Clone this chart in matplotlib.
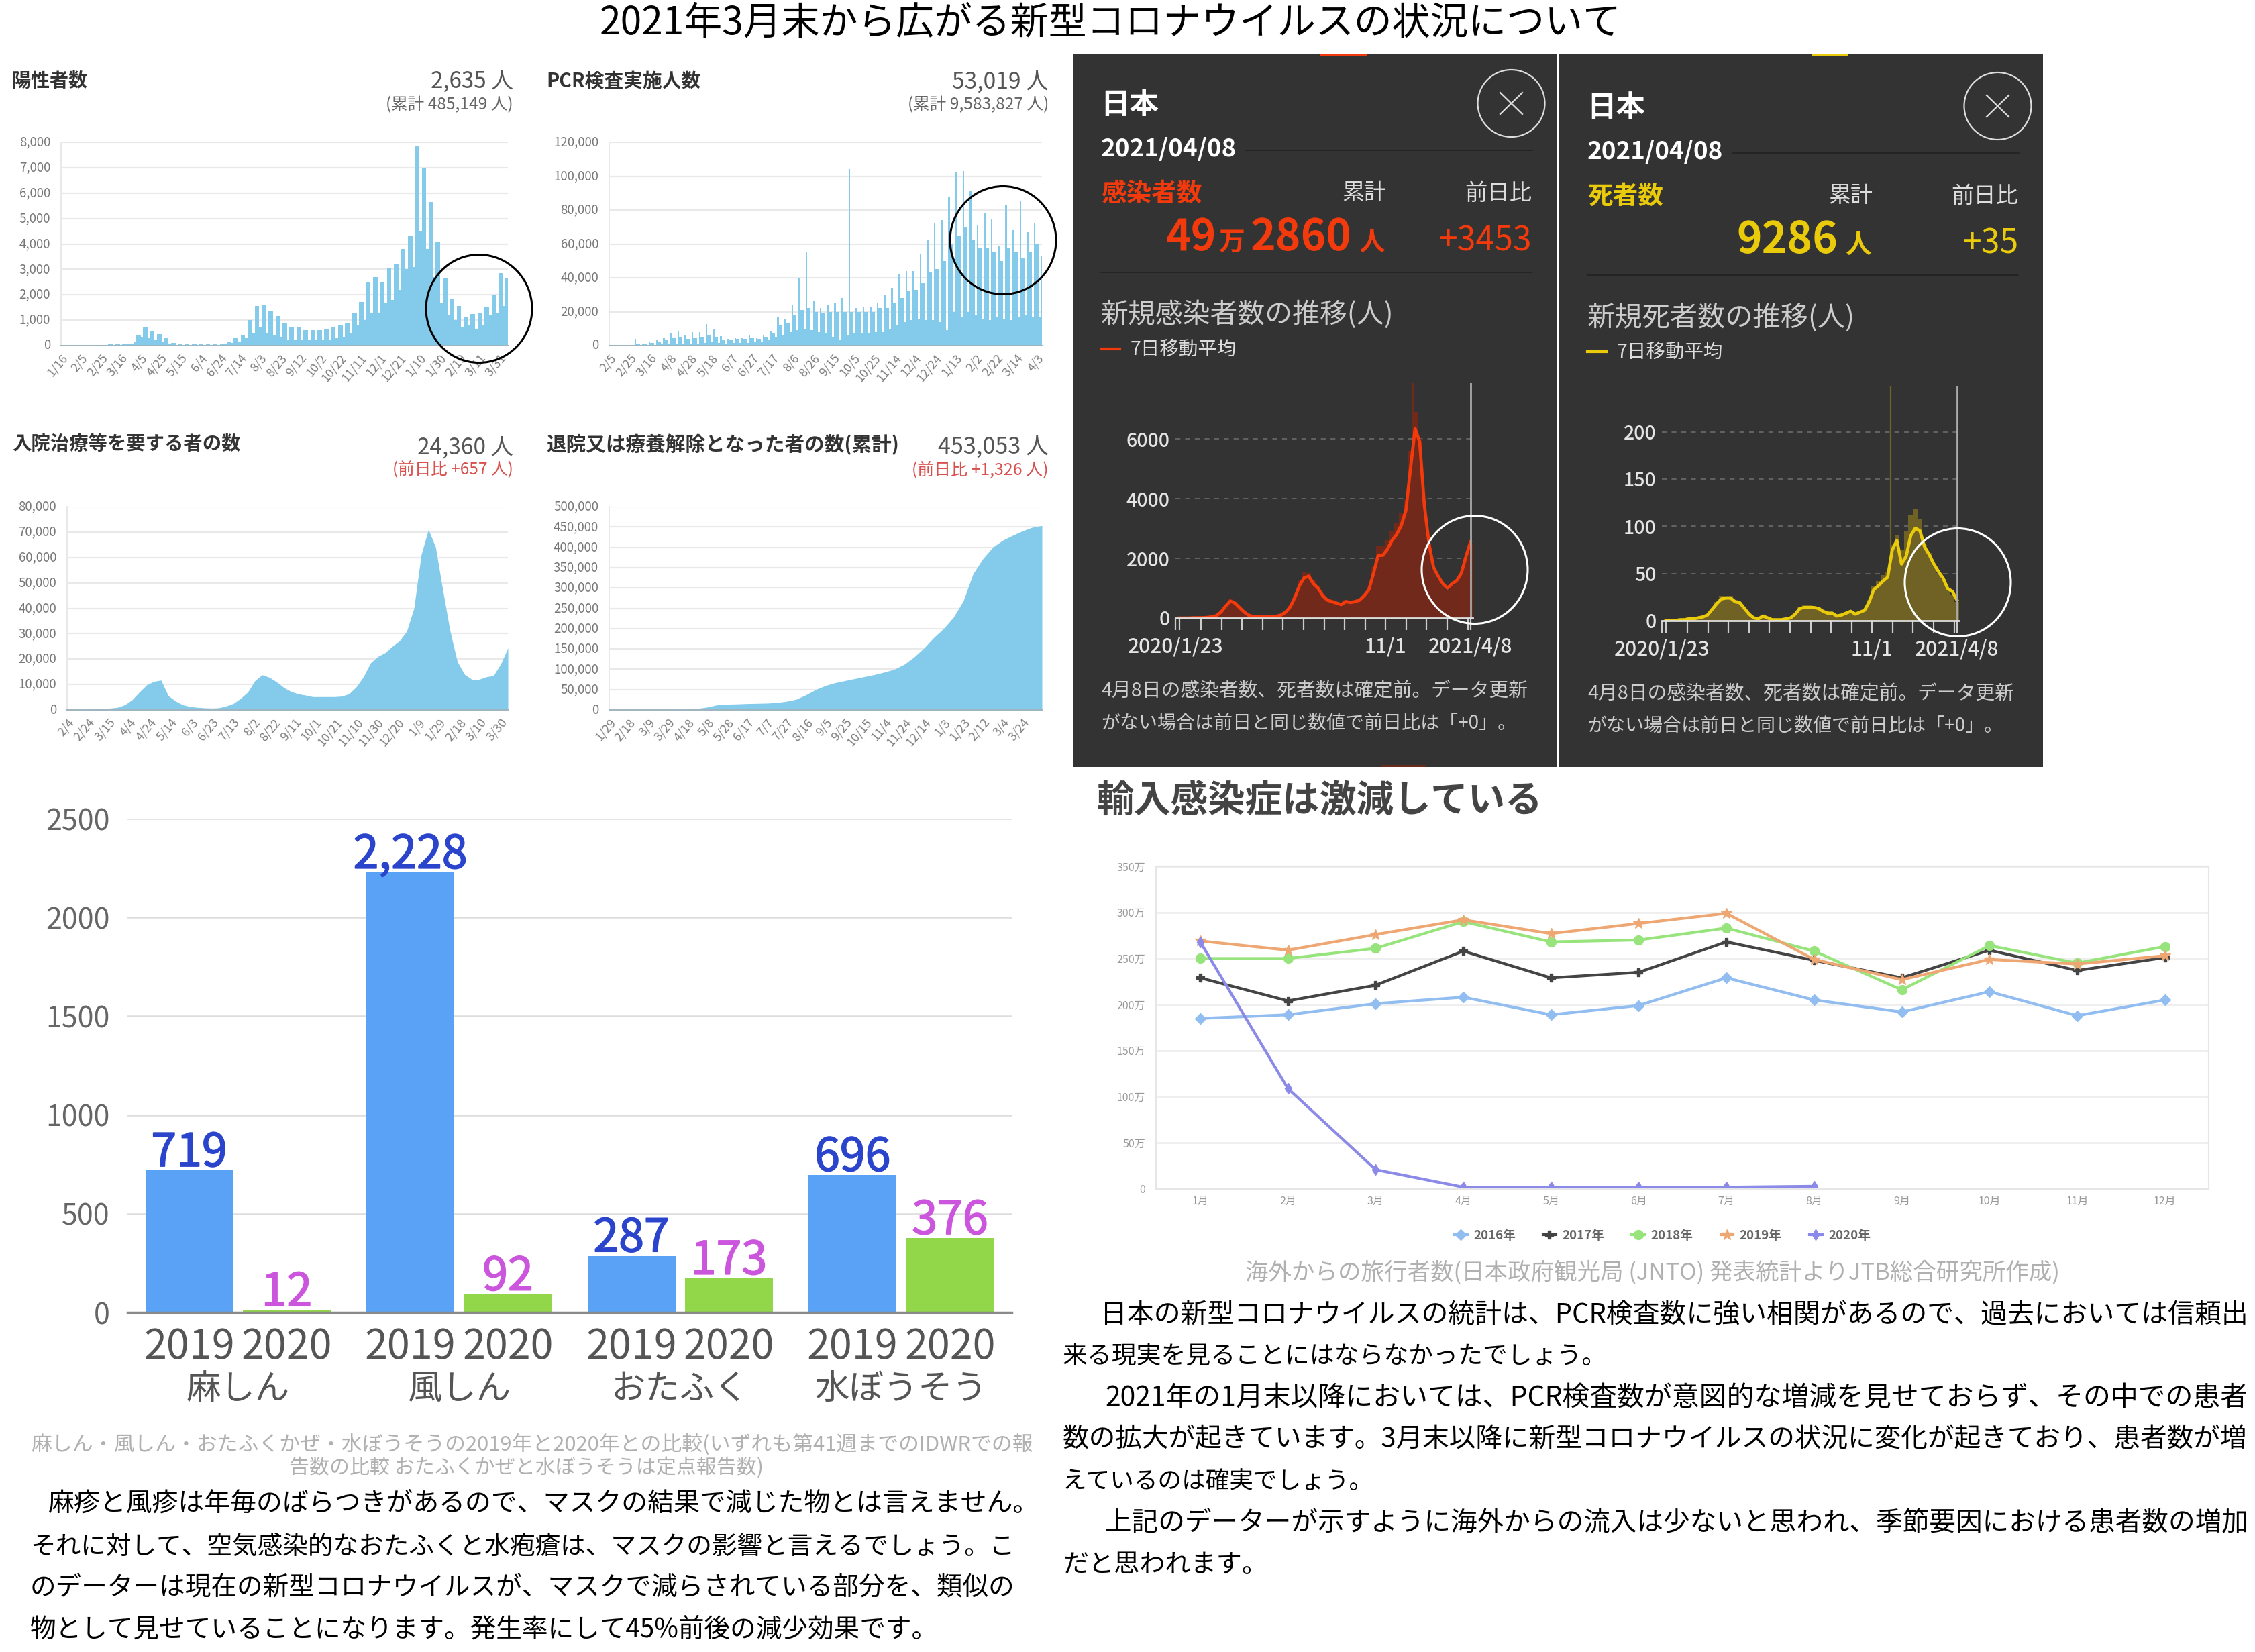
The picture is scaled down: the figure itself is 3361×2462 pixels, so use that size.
import numpy as np
import matplotlib
matplotlib.use("Agg")
import matplotlib.pyplot as plt
import matplotlib.patheffects as pe
from matplotlib.patches import Ellipse, Rectangle

plt.rcParams['font.family'] = ['Noto Sans CJK JP', 'DejaVu Sans']

W, H = 3362, 2462

# top left panels (two readings per week: low days, high days)
positive = [0,0, 0,0, 0,2, 0,5, 2,10, 5,15, 5,20, 10,50, 20,50, 25,60, 40,80,
            120,390, 350,710, 300,590, 200,450, 130,290, 50,100, 30,70, 20,40, 15,50, 20,40,
            20,45, 25,55, 30,70, 60,140, 100,280, 150,420, 300,1000, 500,1570, 700,1590, 500,1340,
            400,1150, 350,890, 250,710, 250,700, 200,600, 200,620, 200,620, 230,660, 250,700, 300,790,
            350,870, 500,1300, 800,1720, 1000,2500, 1300,2680, 1300,2500, 1700,3050, 1800,3200, 2200,3800, 3000,4300,
            3100,7850, 4500,7000, 3800,5650, 2700,4100, 1700,2650, 1200,1850, 1000,1550, 750,1100, 800,1250, 650,1300,
            800,1500, 1200,2000, 1300,2850, 1555,2635]
positive_labels = ["1/16","2/5","2/25","3/16","4/5","4/25","5/15","6/4","6/24","7/14","8/3","8/23",
                   "9/12","10/2","10/22","11/11","12/1","12/21","1/10","1/30","2/19","3/11","3/31"]
positive_ticks = ["0","1,000","2,000","3,000","4,000","5,000","6,000","7,000","8,000"]

# low day and highest day of each week, then the usual weekday level
pcr = [0,0, 0,0, 0,50, 100,3800, 200,1000, 300,2500, 500,3500, 700,4300, 1000,7500, 800,8800, 1000,6500,
       800,8000, 1000,8000, 1500,12800, 2000,9700, 1500,5500, 1200,3800, 1500,4800, 1500,4800, 1500,5800, 1800,4800,
       2000,6500, 3000,8200, 5000,16500, 6000,16000, 8000,24000, 9000,40000, 10000,55000, 9000,26000, 8000,22000, 7000,24000,
       5000,25000, 3000,28000, 6000,104000, 7000,22000, 7000,23000, 7000,23000, 8000,25500, 8000,30000, 10000,34000,
       12000,42000, 14000,44000, 15000,44000, 16000,54000, 15000,62000, 15000,72000, 14000,74000, 9000,88000, 20000,102000, 17000,103000,
       20000,91000, 18000,71000, 16000,78000, 15000,75000, 17000,59000, 16000,83000, 15000,68000, 17000,85000, 18000,67000, 17000,72000,
       17000,53019]
pcr_mid = [0,0,30,800,600,1500,2500,3000,4500,5000,4000,4500,5000,6000,5000,3500,3000,3800,4000,4500,4000,
           5000,7000,12000,13000,18000,21000,22000,20000,19000,20000,20000,20000,20000,20000,20000,20000,22000,22000,25000,28000,
           32000,33000,37000,43000,45000,50000,60000,65000,70000,62000,58000,58000,55000,50000,58000,55000,52000,55000,60000,50000]
pcr_labels = ["2/5","2/25","3/16","4/8","4/28","5/18","6/7","6/27","7/17","8/6","8/26","9/15",
              "10/5","10/25","11/14","12/4","12/24","1/13","2/2","2/22","3/14","4/3"]
pcr_ticks = ["0","20,000","40,000","60,000","80,000","100,000","120,000"]

# weekly readings
hospital = [0,0,50,200,400,500,700,1000,2000,4000,7000,9800,11200,11700,5600,3500,2000,1300,1000,800,700,
            800,1500,2500,4500,7000,11500,13800,12800,11000,8800,7200,6300,5800,5200,5200,5200,5200,5400,6300,9000,
            13000,18500,21000,22500,25000,27200,31000,40000,61000,71000,64000,47000,31000,19000,14000,12000,12000,13000,13500,18000,
            24360]
hospital_labels = ["2/4","2/24","3/15","4/4","4/24","5/14","6/3","6/23","7/13","8/2","8/22","9/11",
                   "10/1","10/21","11/10","11/30","12/20","1/9","1/29","2/18","3/10","3/30"]
hospital_ticks = ["0","10,000","20,000","30,000","40,000","50,000","60,000","70,000","80,000"]

# readings every 10 days
recovered = [0,0,0,20,100,200,300,500,1500,3500,7000,12500,14000,14500,15500,16000,16500,18000,21000,26000,37000,
             50000,60000,67000,72000,77000,82000,87000,93000,100000,112000,130000,152000,178000,200000,228000,268000,335000,372000,400000,417000,
             429000,440000,449000,453053]
recovered_labels = ["1/29","2/18","3/9","3/29","4/18","5/8","5/28","6/17","7/7","7/27","8/16","9/5",
                    "9/25","10/15","11/4","11/24","12/14","1/3","1/23","2/12","3/4","3/24"]
recovered_ticks = ["0","50,000","100,000","150,000","200,000","250,000","300,000","350,000","400,000","450,000","500,000"]

# dark panels, weekly 7 day average
cases_avg = [0,0,0,10,10,10,20,40,80,200,400,570,500,350,200,90,50,50,50,50,50,60,100,200,380,700,1100,1350,1400,1150,1000,
             750,600,550,500,450,550,520,550,600,750,950,1500,2100,2100,2300,2600,2800,3100,3600,5000,6350,5900,3800,2500,1700,1400,1150,1000,1150,1250,1500,2050,2550]
cases_fill = [0,0,0,10,10,10,20,50,90,230,450,620,540,380,220,100,60,60,60,60,60,70,120,230,420,780,1250,1550,1500,1250,1050,
              800,650,600,540,520,600,560,600,660,800,1050,1700,2400,2400,2600,2900,3200,3500,4000,5600,6900,6000,3900,2500,1600,1300,1100,950,1100,1200,1450,2000,2500]
deaths_avg = [0,0,0,1,1,2,2,3,4,6,12,18,23,24,24,20,19,13,7,3,2,5,3,1,1,1,2,3,7,13,14,14,14,13,10,8,8,5,6,8,10,7,9,11,20,
              33,37,42,46,75,85,60,68,90,98,95,78,70,60,52,45,34,31,22]
deaths_fill = [0,0,0,1,1,2,2,3,4,6,13,20,26,26,26,22,20,14,7,3,2,5,3,1,1,1,2,4,8,15,17,16,15,14,11,8,8,5,6,8,10,7,9,11,22,
               36,42,48,52,80,90,75,95,112,118,108,80,72,58,50,44,32,28,20]

# measles etc
disease_names = ["麻しん", "風しん", "おたふく", "水ぼうそう"]
disease_2019 = [719, 2228, 287, 696]
disease_2020 = [12, 92, 173, 376]
disease_2019_text = ["719", "2,228", "287", "696"]

# visitors
months = ["1月","2月","3月","4月","5月","6月","7月","8月","9月","10月","11月","12月"]
visitors_2016 = [185,189,201,208,189,199,229,205,192,214,188,205]
visitors_2017 = [229,204,221,258,229,235,268,248,229,259,237,251]
visitors_2018 = [250,250,261,290,268,270,283,258,216,264,245,263]
visitors_2019 = [269,259,276,292,277,288,299,249,227,249,244,253]
visitors_2020 = [268,109,21,2,2,2,2,3]
visitors_ticks = ["0","50万","100万","150万","200万","250万","300万","350万"]

BLUE = "#84cbeb"
fig = plt.figure(figsize=(W/100, H/100), dpi=100, facecolor="white")


def box(l, t, r, b):
    return [l/W, 1-b/H, (r-l)/W, (b-t)/H]


back = fig.add_axes([0, 0, 1, 1], zorder=0)
back.set_xlim(0, W)
back.set_ylim(H, 0)
back.axis("off")
top = fig.add_axes([0, 0, 1, 1], zorder=5)
top.set_xlim(0, W)
top.set_ylim(H, 0)
top.axis("off")
top.patch.set_alpha(0)
renderer = fig.canvas.get_renderer()


def put(x, y, s, width=None, size=20, color="black", ha="left", va="center", weight="normal"):
    t = top.text(x, y, s, fontsize=size, color=color, ha=ha, va=va, fontweight=weight)
    if width is not None:
        w = t.get_window_extent(renderer).width
        t.set_fontsize(size*width/w)
    return t


def small_axes(pos, ylim, ticks, xlim, xticks, labels):
    ax = fig.add_axes(box(*pos), zorder=2)
    ax.patch.set_alpha(0)
    ax.set_xlim(*xlim)
    ax.set_ylim(0, ylim)
    ax.set_yticks(np.linspace(0, ylim, len(ticks)))
    ax.set_yticklabels(ticks, fontsize=13.5, color="#777777", va="center")
    ax.set_xticks(xticks)
    ax.set_xticklabels(labels, fontsize=13, color="#7f7f7f", rotation=50, ha="right", va="top", rotation_mode="anchor")
    ax.tick_params(length=0)
    ax.tick_params(axis="y", pad=11.5)
    ax.tick_params(axis="x", pad=7)
    ax.grid(axis="y", color="#e9e9e9", lw=1.6)
    ax.set_axisbelow(True)
    for s in ["top", "right"]:
        ax.spines[s].set_visible(False)
    ax.spines["left"].set_color("#e9e9e9")
    ax.spines["left"].set_linewidth(1.4)
    ax.spines["bottom"].set_color("#9fb4be")
    ax.spines["bottom"].set_linewidth(1.4)
    return ax


# top left four charts
ax = small_axes((91, 212, 757, 515), 8000, positive_ticks, (0, 449),
                np.arange(len(positive_labels))*20, positive_labels)
weeks = np.arange(len(positive)//2)*7
ax.bar(weeks-4, positive[0::2], width=2.5, align="edge", color=BLUE, linewidth=0)
ax.bar(weeks-1.5, positive[1::2], width=4.5, align="edge", color=BLUE, linewidth=0)

ax = small_axes((908, 212, 1553, 515), 120000, pcr_ticks, (0, 425),
                np.arange(len(pcr_labels))*20, pcr_labels)
weeks = np.arange(len(pcr_mid))*7
ax.bar(weeks+2, pcr[0::2], width=2, align="edge", color=BLUE, linewidth=0)
ax.bar(weeks+4, pcr[1::2], width=1.5, align="edge", color=BLUE, linewidth=0)
ax.bar(weeks+5.5, pcr_mid, width=3.5, align="edge", color=BLUE, linewidth=0)

ax = small_axes((100, 755, 757, 1058), 80000, hospital_ticks, (0, len(hospital)-1),
                np.arange(len(hospital_labels))*20/7, hospital_labels)
ax.fill_between(np.arange(len(hospital)), hospital, color=BLUE, linewidth=0)
ax = small_axes((908, 755, 1553, 1058), 500000, recovered_ticks, (0, len(recovered)-1),
                np.arange(len(recovered_labels))*2, recovered_labels)
ax.fill_between(np.arange(len(recovered)), recovered, color=BLUE, linewidth=0)

put(18, 121, "陽性者数", width=112, color="#333333", weight="bold")
put(765, 122, "2,635 人", width=123, color="#555555", ha="right")
put(765, 156, "(累計 485,149 人)", width=189, color="#666666", ha="right")
put(814, 121, "PCR検査実施人数", width=230, color="#333333", weight="bold")
put(1563, 122, "53,019 人", width=144, color="#555555", ha="right")
put(1563, 156, "(累計 9,583,827 人)", width=210, color="#666666", ha="right")
put(18, 662, "入院治療等を要する者の数", width=340, color="#333333", weight="bold")
put(765, 667, "24,360 人", width=143, color="#555555", ha="right")
put(765, 700, "(前日比 +657 人)", width=180, color="#d8504d", ha="right")
put(814, 662, "退院又は療養解除となった者の数(累計)", width=525, color="#333333", weight="bold")
put(1563, 667, "453,053 人", width=165, color="#555555", ha="right")
put(1563, 700, "(前日比 +1,326 人)", width=203, color="#d8504d", ha="right")

for cx, cy, col in [(714, 460, "black"), (1495, 358, "black"), (2198, 849, "white"), (2918, 868, "white")]:
    top.add_patch(Ellipse((cx, cy), 158, 161, fill=False, ec=col, lw=2.2))


def dark_panel(dx, dy, pl, pr, kind, color, fill_col, big_parts, diff, head, avg, fill, ylim, yvals, spike):
    back.add_patch(Rectangle((pl, 81), pr-pl, 1062, fc="#333333", ec="none"))
    if kind == "cases":
        back.add_patch(Rectangle((1967+dx, 80), 71, 4, fc=color, ec="none"))
        back.add_patch(Rectangle((2059+dx, 1140), 66, 3, fc="#6a2a1c", ec="none"))
    else:
        back.add_patch(Rectangle((1976+dx, 80), 53, 4, fc=color, ec="none"))
    top.add_patch(Ellipse((2252.5+dx, 154+dy), 100, 100, fill=False, ec="#dddddd", lw=1.6))
    top.plot([2236+dx, 2269+dx], [138+dy, 170+dy], color="#dddddd", lw=1.6)
    top.plot([2236+dx, 2269+dx], [170+dy, 138+dy], color="#dddddd", lw=1.6)
    put(1640+dx, 156+dy, "日本", width=87, color="white", weight="bold")
    put(1641+dx, 223+dy, "2021/04/08", width=202, color="white", weight="bold")
    top.plot([1857+dx, 2284+dx], [224+dy, 224+dy], color="#222222", lw=1.2)
    put(1641+dx, 288+dy, head, width=37.6*len(head), color=color, weight="bold")
    put(2066+dx, 288+dy, "累計", width=66, color="#dddddd", ha="right")
    put(2283+dx, 288+dy, "前日比", width=100, color="#dddddd", ha="right")
    for left, s, sz in big_parts:
        put(left+dx, 373+dy, s, size=sz, color=color, va="baseline", weight="bold")
    put(2283+dx, 373+dy, diff, size=36, color=color, ha="right", va="baseline")
    top.plot([1641+dx, 2283+dx], [406+dy, 406+dy], color="#222222", lw=1.2)
    title = "新規感染者数の推移(人)" if kind == "cases" else "新規死者数の推移(人)"
    put(1641+dx, 469+dy, title, width=36.3*len(title), color="#cccccc")
    top.plot([1641+dx, 1669+dx], [520+dy, 520+dy], color=color, lw=3)
    put(1685+dx, 521+dy, "7日移動平均", width=158, color="#dddddd")
    put(1641+dx, 1030+dy, "4月8日の感染者数、死者数は確定前。データ更新", width=636, color="#cccccc")
    put(1641+dx, 1079+dy, "がない場合は前日と同じ数値で前日比は「+0」。", width=620, color="#cccccc")

    ax = fig.add_axes(box(1752+dx, 571+dy, 2195+dx, 921+dy), zorder=2)
    ax.set_facecolor("#333333")
    x = np.arange(len(avg))
    ax.set_xlim(-0.87, 63.47)
    ax.set_ylim(0, ylim)
    ax.bar(x, fill, width=1, color=fill_col, linewidth=0)
    ax.vlines(spike[0], 0, spike[1], color=fill_col, lw=1.6)
    ax.plot(x, avg, color=color, lw=3.4, solid_joinstyle="round")
    ax.axvline(63, color="#aaaaaa", lw=2)
    ax.set_yticks(yvals)
    ax.set_yticklabels([str(v) for v in yvals], fontsize=20.5, color="#e4e4e4", fontweight="medium")
    ax.grid(axis="y", color="#666666", ls=(0, (4, 4)), lw=1.3)
    ax.set_axisbelow(True)
    ticks = [-0.87, 0.07] + [4.67+4.44*i for i in range(14)] + [63]
    labels = [""]*len(ticks)
    labels[0] = "2020/1/23"
    labels[11] = "11/1"
    labels[-1] = "2021/4/8"
    ax.set_xticks(ticks)
    ax.set_xticklabels(labels, fontsize=21.5, color="#e4e4e4", fontweight="medium")
    ax.tick_params(axis="x", length=13, width=1.6, color="#cccccc", pad=7)
    ax.tick_params(axis="y", length=0, pad=6)
    for s in ["top", "right", "left"]:
        ax.spines[s].set_visible(False)
    ax.spines["bottom"].set_color("#dddddd")
    ax.spines["bottom"].set_linewidth(2)


dark_panel(0, 0, 1600, 2320, "cases", "#f23a0c", "#71291c",
           [(1738, "49", 46), (1816, "万", 28), (1864, "2860", 46), (2025, "人", 28)], "+3453", "感染者数",
           cases_avg, cases_fill, 7873, [0, 2000, 4000, 6000], (50.5, 7880))
dark_panel(725, 4, 2324, 3045, "deaths", "#e9cb0c", "#6f6224",
           [(1864, "9286", 46), (2025, "人", 28)], "+35", "死者数",
           deaths_avg, deaths_fill, 248.7, [0, 50, 100, 150, 200], (48.7, 248))

# bar chart bottom left
ax = fig.add_axes(box(190, 1220, 1508, 1956), zorder=2)
ax.patch.set_alpha(0)
group = np.arange(len(disease_names))
ax.bar(group-0.2206, disease_2019, width=0.3975, color="#5aa2f5")
ax.bar(group+0.2206, disease_2020, width=0.3975, color="#92d64a")
thick = [pe.withStroke(linewidth=1.2, foreground="#2a44cc")]
for g, v, s in zip(group, disease_2019, disease_2019_text):
    ax.annotate(s, (g-0.2206, v), xytext=(0, -7), textcoords="offset points", ha="center", va="bottom",
                fontsize=49, color="#2a44cc", path_effects=thick)
thick = [pe.withStroke(linewidth=1.2, foreground="#cc55dd")]
for g, v in zip(group, disease_2020):
    ax.annotate(str(v), (g+0.2206, v), xytext=(0, -7), textcoords="offset points", ha="center", va="bottom",
                fontsize=49, color="#cc55dd", path_effects=thick)
ax.set_xlim(-0.5, 3.5)
ax.set_ylim(0, 2500)
ax.set_yticks([0, 500, 1000, 1500, 2000, 2500])
ax.set_yticklabels(["0", "500", "1000", "1500", "2000", "2500"], fontsize=31, color="#666666")
ax.set_xticks(np.concatenate([group-0.2206, group+0.2206]))
ax.set_xticklabels(["2019"]*4 + ["2020"]*4, fontsize=44, color="#555555")
ax.tick_params(length=0)
ax.tick_params(axis="y", pad=19)
ax.tick_params(axis="x", pad=15)
ax.grid(axis="y", color="#dddddd", lw=1.8)
ax.set_axisbelow(True)
for s in ["top", "right", "left"]:
    ax.spines[s].set_visible(False)
ax.spines["bottom"].set_color("#8a8a8a")
ax.spines["bottom"].set_linewidth(2.5)
for g, name in zip(group, disease_names):
    ax.annotate(name, (g, 0), xycoords=("data", "axes fraction"), xytext=(0, -82), textcoords="offset points",
                ha="center", va="center", fontsize=37, color="#555555")

# line chart bottom right
ax = fig.add_axes(box(1723.5, 1291, 3292, 1772), zorder=2)
ax.patch.set_alpha(0)
mx = np.arange(len(months))
ax.plot(mx, visitors_2016, color="#92bdf0", lw=3, marker="D", ms=8, label="2016年")
ax.plot(mx, visitors_2017, color="#444444", lw=3, marker="P", ms=9, label="2017年")
ax.plot(mx, visitors_2018, color="#98e47c", lw=3, marker="o", ms=10, label="2018年")
ax.plot(mx, visitors_2019, color="#eea773", lw=3, marker="*", ms=12, label="2019年")
ax.plot(mx[:len(visitors_2020)], visitors_2020, color="#8c8ae8", lw=3, marker="d", ms=8, label="2020年")
ax.set_xlim(-0.5, 11.5)
ax.set_ylim(0, 350)
ax.set_yticks(np.arange(0, 351, 50))
ax.set_yticklabels(visitors_ticks, fontsize=11.5, color="#999999")
ax.set_xticks(mx)
ax.set_xticklabels(months, fontsize=11.5, color="#999999")
ax.tick_params(length=0, pad=12)
ax.tick_params(axis="x", pad=7)
ax.grid(axis="y", color="#eeeeee", lw=2)
ax.set_axisbelow(True)
for s in ax.spines.values():
    s.set_color("#e6e6e6")
    s.set_linewidth(1.5)
fig.legend(*ax.get_legend_handles_labels(), loc="center", bbox_to_anchor=(2478/W, 1-1841.5/H), ncol=5,
           frameon=False, prop={"weight": "bold", "size": 13.5}, handlelength=1.0, columnspacing=2.2,
           handletextpad=0.5, labelcolor="#666666")

# text
put(1655, 34, "2021年3月末から広がる新型コロナウイルスの状況について", width=1520, ha="center")
put(1634, 1194, "輸入感染症は激減している", width=664, color="#444444", weight="bold")
put(1856, 1896, "海外からの旅行者数(日本政府観光局 (JNTO) 発表統計よりJTB総合研究所作成)", width=1212, color="#b0b0b0")
put(46, 2153, "麻しん・風しん・おたふくかぜ・水ぼうそうの2019年と2020年との比較(いずれも第41週までのIDWRでの報", width=1495, color="#b0b0b0")
put(431, 2187, "告数の比較 おたふくかぜと水ぼうそうは定点報告数)", width=707, color="#b0b0b0")

put(71, 2241, "麻疹と風疹は年毎のばらつきがあるので、マスクの結果で減じた物とは言えません。", width=1476)
put(45, 2305, "それに対して、空気感染的なおたふくと水疱瘡は、マスクの影響と言えるでしょう。こ", width=1467)
put(45, 2365, "のデーターは現在の新型コロナウイルスが、マスクで減らされている部分を、類似の", width=1465)
put(45, 2429, "物として見せていることになります。発生率にして45%前後の減少効果です。", width=1352)

put(1640, 1959, "日本の新型コロナウイルスの統計は、PCR検査数に強い相関があるので、過去においては信頼出", width=1707)
put(1584, 2022, "来る現実を見ることにはならなかったでしょう。", width=810)
put(1647, 2084, "2021年の1月末以降においては、PCR検査数が意図的な増減を見せておらず、その中での患者", width=1700)
put(1584, 2146, "数の拡大が起きています。3月末以降に新型コロナウイルスの状況に変化が起きており、患者数が増", width=1763)
put(1584, 2208, "えているのは確実でしょう。", width=462)
put(1647, 2270, "上記のデーターが示すように海外からの流入は少ないと思われ、季節要因における患者数の増加", width=1700)
put(1584, 2332, "だと思われます。", width=305)

fig.savefig("out.png", dpi=100)
